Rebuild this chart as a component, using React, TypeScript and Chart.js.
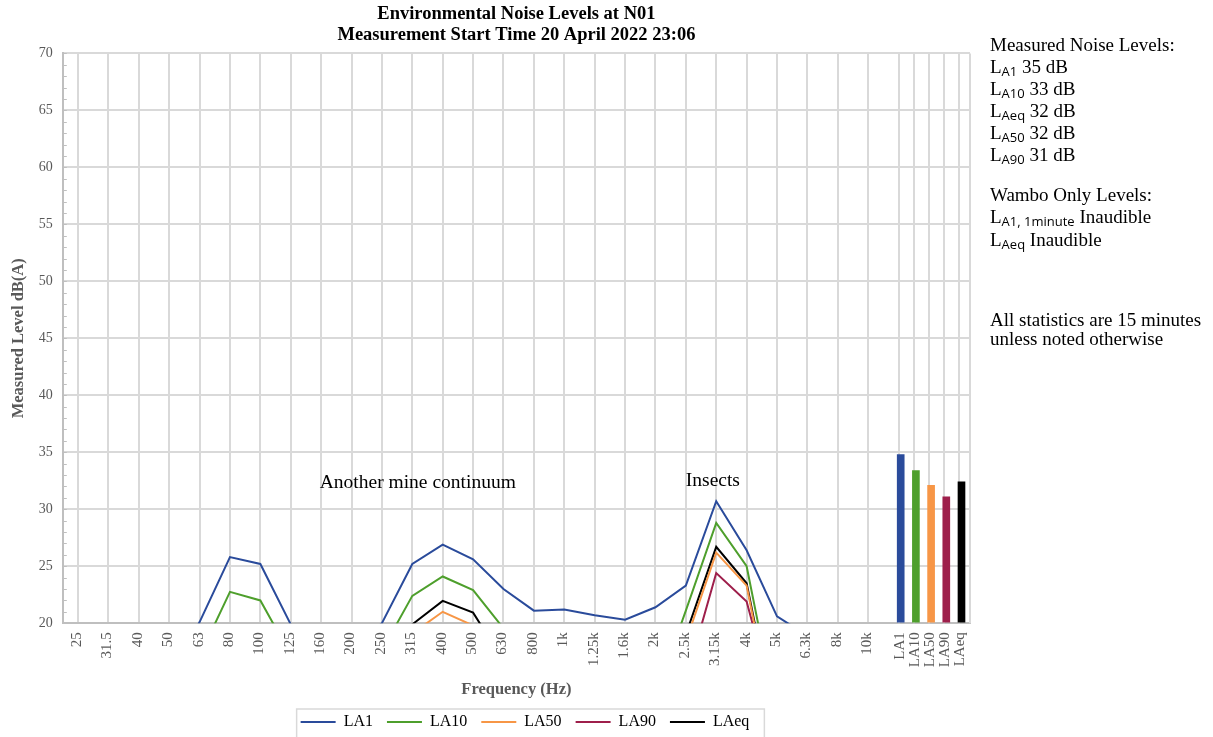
import React, { useEffect, useRef } from "react";
import { Chart, registerables } from "chart.js";

Chart.register(...registerables);

// ---------- data ----------
const freqLabels = ["25", "31.5", "40", "50", "63", "80", "100", "125", "160", "200", "250", "315", "400", "500", "630", "800", "1k", "1.25k", "1.6k", "2k", "2.5k", "3.15k", "4k", "5k", "6.3k", "8k", "10k"];
const la1Values = [12, 13, 14, 15, 20.1, 25.8, 25.2, 19.9, 17, 17.5, 20.0, 25.2, 26.9, 25.6, 23.0, 21.1, 21.2, 20.7, 20.3, 21.4, 23.3, 30.7, 26.4, 20.6, 18.9, 16, 13];
const la10Values = [10, 11, 12, 13, 17.1, 22.75, 22.0, 17.2, 15, 15.5, 17.6, 22.4, 24.1, 22.9, 19.55, 17, 17, 16.5, 16, 13.6, 21.1, 28.8, 25.0, 11.7, 10, 9, 8];
const la50Values = [7, 8, 9, 10, 12, 14, 13.5, 12, 11, 11.5, 14, 19.1, 21.0, 19.8, 15, 13, 13, 12.5, 12, 11, 18.4, 26.2, 23.3, 10, 8, 7, 6];
const la90Values = [6, 7, 8, 9, 10, 12, 12, 10, 10, 10, 12, 16, 17.5, 16.5, 13, 11, 11, 10.5, 10, 10, 15.0, 24.4, 21.9, 12, 7, 6, 5];
const laeqValues = [8, 9, 10, 11, 13, 16, 15.5, 13, 12, 12.5, 15, 19.9, 21.96, 20.93, 16.7, 14, 14, 13.5, 13, 12, 19.0, 26.7, 23.5, 10.4, 9, 8, 7];

const seriesNames = ["LA1", "LA10", "LA50", "LA90", "LAeq"];
const seriesValues = [la1Values, la10Values, la50Values, la90Values, laeqValues];
const seriesColors = ["#2A4B9B", "#4E9F2C", "#F79646", "#9E1F4B", "#000000"];

const overallLabels = ["LA1", "LA10", "LA50", "LA90", "LAeq"];
const overallValues = [34.8, 33.4, 32.1, 31.1, 32.4];

const measuredSubs = ["A1", "A10", "Aeq", "A50", "A90"];
const measuredDb = [35, 33, 32, 32, 31];
const wamboSubs = ["A1, 1minute", "Aeq"];
const wamboValues = ["Inaudible", "Inaudible"];

const titleLines = ["Environmental Noise Levels at N01", "Measurement Start Time 20 April 2022 23:06"];
const annotations = [
  { text: "Another mine continuum", at: 11.18, level: 32.3 },
  { text: "Insects", at: 20.89, level: 32.5 },
];

// ---------- layout ----------
const W = 1213;
const H = 737;
const SERIF = "'Liberation Serif', 'Times New Roman', serif";
const SANS = "'Open Sans', 'Noto Sans', sans-serif";
const GREY = "#595959";
const GRID = "#D9D9D9";
const AXIS = "#BFBFBF";
const Y_MIN = 20;
const Y_MAX = 70;
const X_MIN = -0.5;
const X_MAX = 29.35;
const BAR_STEP = 0.5;
const BAR_OFFSET = 0.07;
const nFreq = freqLabels.length;

const labelTicks = [
  ...freqLabels.map((_, i) => i),
  ...overallLabels.map((_, i) => nFreq + i * BAR_STEP + BAR_OFFSET),
];
const barGridLines = [...overallLabels.map((_, i) => nFreq + i * BAR_STEP), X_MAX];
const allLabels = [...freqLabels, ...overallLabels];

const extraGridPlugin = {
  id: "extraGrid",
  beforeDatasetsDraw(chart: any) {
    const { ctx, chartArea } = chart;
    const x = chart.scales.x;
    ctx.save();
    ctx.strokeStyle = GRID;
    ctx.lineWidth = 2;
    for (const v of barGridLines) {
      const px = Math.round(x.getPixelForValue(v));
      ctx.beginPath();
      ctx.moveTo(px, chartArea.top);
      ctx.lineTo(px, chartArea.bottom);
      ctx.stroke();
    }
    ctx.restore();
  },
};

const minorTickPlugin = {
  id: "minorTicks",
  afterDraw(chart: any) {
    const { ctx, chartArea } = chart;
    const y = chart.scales.y;
    ctx.save();
    ctx.strokeStyle = AXIS;
    ctx.lineWidth = 1;
    for (let v = Y_MIN; v <= Y_MAX; v += 1) {
      const py = Math.round(y.getPixelForValue(v)) + 0.5;
      ctx.beginPath();
      ctx.moveTo(chartArea.left, py);
      ctx.lineTo(chartArea.left + 4, py);
      ctx.stroke();
    }
    ctx.restore();
  },
};

const annotationPlugin = {
  id: "annotations",
  afterDatasetsDraw(chart: any) {
    const { ctx } = chart;
    const x = chart.scales.x;
    const y = chart.scales.y;
    ctx.save();
    ctx.font = `19.5px ${SERIF}`;
    ctx.fillStyle = "#000";
    ctx.textAlign = "center";
    ctx.textBaseline = "middle";
    for (const a of annotations) {
      ctx.fillText(a.text, x.getPixelForValue(a.at), y.getPixelForValue(a.level));
    }
    ctx.restore();
  },
};

const LEGEND_CENTER = 525;
const legendPlugin = {
  id: "legendFrame",
  afterLayout(chart: any) {
    const l = chart.legend;
    if (!l) return;
    const dx = LEGEND_CENTER - (l.left + l.right) / 2;
    l.left += dx;
    l.right += dx;
  },
  afterDraw(chart: any) {
    const l = chart.legend;
    if (!l || !l.legendHitBoxes || !l.legendHitBoxes.length) return;
    const boxes = l.legendHitBoxes;
    let minX = Infinity, maxX = -Infinity, minY = Infinity;
    for (const b of boxes) {
      minX = Math.min(minX, b.left);
      maxX = Math.max(maxX, b.left + b.width);
      minY = Math.min(minY, b.top);
    }
    const { ctx } = chart;
    ctx.save();
    ctx.strokeStyle = GRID;
    ctx.lineWidth = 1.5;
    ctx.strokeRect(minX - 4, minY - 5, maxX - minX + 19, 60);
    ctx.restore();
  },
};

function Sub({ base, sub }: { base: string; sub: string }) {
  return (
    <span>
      {base}
      <span style={{ fontFamily: SANS, fontSize: 13, position: "relative", top: 3, lineHeight: 0 }}>{sub}</span>
    </span>
  );
}

export default function App() {
  const canvasRef = useRef<HTMLCanvasElement>(null);

  useEffect(() => {
    const canvas = canvasRef.current;
    if (!canvas) return;
    const lineSets = seriesNames.map((name, si) => ({
      type: "line" as const,
      label: name,
      data: seriesValues[si].map((v, i) => ({ x: i, y: v })),
      borderColor: seriesColors[si],
      backgroundColor: seriesColors[si],
      borderWidth: 2,
      pointRadius: 0,
      pointHoverRadius: 0,
      tension: 0,
      clip: 0,
    }));
    const barSet = {
      type: "bar" as const,
      label: "Overall",
      data: overallValues.map((v, i) => ({ x: nFreq + i * BAR_STEP + BAR_OFFSET, y: v })),
      backgroundColor: seriesColors,
      borderWidth: 0,
      barThickness: 7,
      base: Y_MIN,
    };

    const chart = new Chart(canvas, {
      type: "line",
      data: { datasets: [...lineSets, barSet] as any },
      options: {
        responsive: false,
        animation: false,
        layout: { padding: { left: 0, right: W - 970, top: 0, bottom: -3 } },
        plugins: {
          tooltip: { enabled: false },
          title: {
            display: true,
            text: titleLines,
            color: "#000",
            fullSize: false,
            font: { family: SERIF, size: 18.5, weight: "bold", lineHeight: 1.12 },
            padding: { top: 4, bottom: 8 },
          },
          legend: {
            display: true,
            position: "bottom",
            labels: {
              filter: (item: any) => item.datasetIndex < seriesNames.length,
              usePointStyle: true,
              pointStyle: "line",
              pointStyleWidth: 35,
              color: "#000",
              font: { family: SERIF, size: 16 },
              padding: 14,
            },
          },
        },
        scales: {
          x: {
            type: "linear",
            position: "bottom",
            min: X_MIN,
            max: X_MAX,
            offset: false,
            afterBuildTicks: (scale: any) => {
              scale.ticks = labelTicks.map((v) => ({ value: v }));
            },
            grid: {
              display: true,
              offset: false,
              lineWidth: 2,
              drawTicks: false,
              color: (c: any) => (c.index !== undefined && c.index >= nFreq ? "rgba(0,0,0,0)" : GRID),
            },
            border: { display: true, color: AXIS, width: 2 },
            ticks: {
              autoSkip: false,
              minRotation: 90,
              maxRotation: 90,
              padding: 9,
              labelOffset: -1,
              color: GREY,
              font: { family: SERIF, size: 15 },
              callback: (_v: any, index: number) => allLabels[index],
            },
            title: {
              display: true,
              text: "Frequency (Hz)",
              color: GREY,
              font: { family: SERIF, size: 16.5, weight: "bold" },
              padding: { top: 4, bottom: 0 },
            },
          },
          y: {
            type: "linear",
            position: "left",
            min: Y_MIN,
            max: Y_MAX,
            ticks: {
              stepSize: 5,
              padding: 10,
              color: GREY,
              font: { family: SERIF, size: 14 },
            },
            grid: { color: GRID, lineWidth: 2, drawTicks: false },
            border: { display: true, color: AXIS, width: 2 },
            title: {
              display: true,
              text: "Measured Level dB(A)",
              color: GREY,
              font: { family: SERIF, size: 16.5, weight: "bold" },
              padding: { top: 9, bottom: 0 },
            },
          },
        },
      } as any,
      plugins: [extraGridPlugin, minorTickPlugin, annotationPlugin, legendPlugin],
    });
    return () => chart.destroy();
  }, []);

  const panelStyle: React.CSSProperties = {
    position: "absolute",
    left: 990,
    fontFamily: SERIF,
    fontSize: 19,
    color: "#000",
    lineHeight: "22px",
    whiteSpace: "nowrap",
  };
  const rowStyle: React.CSSProperties = { height: 22 };

  return (
    <div style={{ position: "absolute", left: 0, top: 0, width: W, height: H, background: "#fff", overflow: "hidden" }}>
      <canvas ref={canvasRef} width={W} height={H} style={{ position: "absolute", left: 0, top: 0, width: W, height: H }} />
      <div style={{ ...panelStyle, top: 34 }}>
        <div style={rowStyle}>Measured Noise Levels:</div>
        {measuredSubs.map((s, i) => (
          <div key={s} style={rowStyle}>
            <Sub base="L" sub={s} /> {measuredDb[i]} dB
          </div>
        ))}
      </div>
      <div style={{ ...panelStyle, top: 184 }}>
        <div style={rowStyle}>Wambo Only Levels:</div>
        {wamboSubs.map((s, i) => (
          <div key={s} style={{ height: 23 }}>
            <Sub base="L" sub={s} /> {wamboValues[i]}
          </div>
        ))}
      </div>
      <div style={{ ...panelStyle, top: 310, lineHeight: "19px" }}>
        <div>All statistics are 15 minutes</div>
        <div>unless noted otherwise</div>
      </div>
    </div>
  );
}
